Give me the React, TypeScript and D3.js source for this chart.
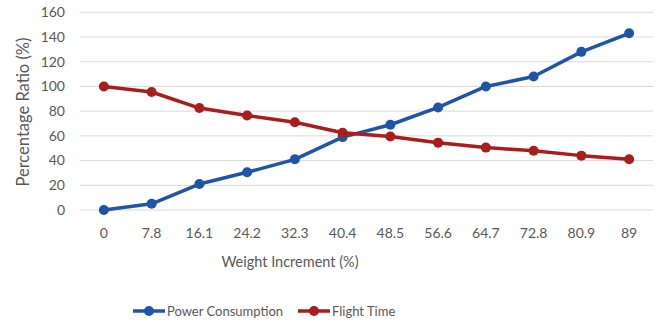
import React, { useEffect, useRef } from 'react';
import * as d3 from "d3";

// data ------------------------------------------------------
const categories = ["0", "7.8", "16.1", "24.2", "32.3", "40.4", "48.5", "56.6", "64.7", "72.8", "80.9", "89"];
const powerConsumption = [0, 5, 21, 30.5, 41, 59, 69, 83, 100, 108, 128, 143];
const flightTime = [100, 95.5, 82.5, 76.5, 71, 62.5, 59.5, 54.5, 50.5, 48, 44, 41];
const yTicks = [0, 20, 40, 60, 80, 100, 120, 140, 160];

const seriesList = [
    { name: "Power Consumption", values: powerConsumption, color: "#1f55a9" },
    { name: "Flight Time", values: flightTime, color: "#a81d1d" },
];

const App = () => {
    const [width, height] = [661, 322];
    const svgRef = useRef<SVGSVGElement>(null);

    useEffect(() => {
        drawChart();
    }, []);

    function drawChart() {
        const svg = d3.select(svgRef.current);
        svg.selectAll("*").remove();

        const font = "Lato, 'Open Sans', sans-serif";
        const textColor = "#595959";

        // plot area
        const left = 80, right = 653, top = 12.3, bottom = 210;

        const xScale = d3.scaleBand()
            .domain(categories)
            .range([left, right]);

        const yScale = d3.scaleLinear()
            .domain([0, 160])
            .range([bottom, top]);

        // gridlines
        svg.append("g")
            .selectAll("line")
            .data(yTicks)
            .join("line")
            .attr("x1", left)
            .attr("x2", right)
            .attr("y1", (d) => yScale(d))
            .attr("y2", (d) => yScale(d))
            .style("stroke", "#d9d9d9")
            .style("stroke-width", 1);

        // y tick labels
        svg.append("g")
            .selectAll("text")
            .data(yTicks)
            .join("text")
            .attr("x", 65)
            .attr("y", (d) => yScale(d))
            .attr("dy", "0.35em")
            .attr("text-anchor", "end")
            .style("font-family", font)
            .style("font-size", "14px")
            .style("fill", textColor)
            .text((d) => d);

        // x tick labels
        svg.append("g")
            .selectAll("text")
            .data(categories)
            .join("text")
            .attr("x", (d) => xScale(d)! + xScale.bandwidth() / 2)
            .attr("y", 233)
            .attr("dy", "0.35em")
            .attr("text-anchor", "middle")
            .style("font-family", font)
            .style("font-size", "14px")
            .style("fill", textColor)
            .text((d) => d);

        // axis titles
        svg.append("text")
            .attr("x", 290)
            .attr("y", 262)
            .attr("dy", "0.35em")
            .attr("text-anchor", "middle")
            .style("font-family", font)
            .style("font-size", "14.5px")
            .style("fill", textColor)
            .text("Weight Increment (%)");

        svg.append("text")
            .attr("transform", `translate(23, 112) rotate(-90)`)
            .attr("dy", "0.35em")
            .attr("text-anchor", "middle")
            .style("font-family", font)
            .style("font-size", "16.5px")
            .style("fill", textColor)
            .text("Percentage Ratio (%)");

        // lines + markers
        const line = d3.line<number>()
            .x((d, i) => xScale(categories[i])! + xScale.bandwidth() / 2)
            .y((d) => yScale(d));

        seriesList.forEach((s) => {
            svg.append("path")
                .datum(s.values)
                .attr("d", line)
                .style("fill", "none")
                .style("stroke", s.color)
                .style("stroke-width", 3.5)
                .style("stroke-linejoin", "round");

            svg.append("g")
                .selectAll("circle")
                .data(s.values)
                .join("circle")
                .attr("cx", (d, i) => xScale(categories[i])! + xScale.bandwidth() / 2)
                .attr("cy", (d) => yScale(d))
                .attr("r", 5)
                .style("fill", s.color);
        });

        // legend
        const legendX = [133, 298];
        const legend = svg.append("g")
            .selectAll("g")
            .data(seriesList)
            .join("g")
            .attr("transform", (d, i) => `translate(${legendX[i]}, 311)`);

        legend.append("line")
            .attr("x1", 0)
            .attr("x2", 32)
            .style("stroke", (d) => d.color)
            .style("stroke-width", 3.5);

        legend.append("circle")
            .attr("cx", 16)
            .attr("r", 5)
            .style("fill", (d) => d.color);

        legend.append("text")
            .attr("x", 34)
            .attr("dy", "0.35em")
            .style("font-family", font)
            .style("font-size", "13px")
            .style("fill", textColor)
            .text((d) => d.name);
    }

    return (
        <svg
            ref={svgRef}
            width={width}
            height={height}
            style={{ position: "absolute", left: 0, top: 0, background: "#fff" }}
        />
    );
};

export default App;
